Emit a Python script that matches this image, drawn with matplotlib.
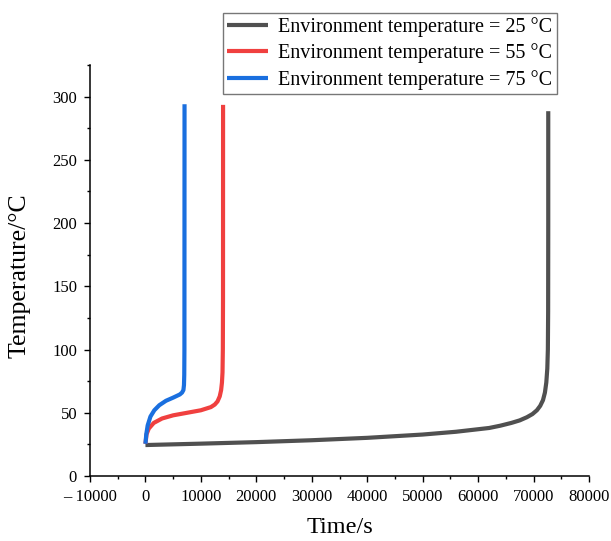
import matplotlib

matplotlib.use("Agg")
import matplotlib.pyplot as plt
from matplotlib.ticker import FuncFormatter, MultipleLocator

# Time (s) and temperature (°C)
time_25 = [0, 10000, 20000, 30000, 40000, 50000, 56000, 62000, 64000, 66000,
           67500, 68800, 69800, 70600, 71200, 71700, 72050, 72300, 72480,
           72580, 72630, 72650, 72650]
temp_25 = [24.5, 25.6, 26.8, 28.3, 30.2, 32.8, 35.0, 38.0, 39.8, 42.0,
           44.0, 46.5, 49.0, 52.0, 55.5, 60.0, 66.0, 74.0, 85.0,
           100.0, 130.0, 200.0, 288.5]

time_55 = [0, 200, 600, 1500, 3000, 5000, 7500, 10000, 11800, 12500,
           13000, 13400, 13650, 13800, 13900, 13960, 13990, 14000]
temp_55 = [25.5, 33.0, 37.5, 42.0, 45.5, 48.0, 50.0, 52.0, 54.5, 56.5,
           59.0, 63.0, 68.0, 74.0, 82.0, 100.0, 140.0, 293.5]

time_75 = [0, 150, 400, 900, 1600, 2500, 3700, 5000, 6200, 6600,
           6850, 6950, 7000, 7030, 7050]
temp_75 = [25.5, 33.0, 40.0, 47.0, 52.0, 56.0, 59.5, 62.0, 64.5, 66.0,
           68.0, 72.0, 80.0, 100.0, 294.0]

SERIES = [
    (time_25, temp_25, "Environment temperature = 25 °C", "#505050"),
    (time_55, temp_55, "Environment temperature = 55 °C", "#F0403F"),
    (time_75, temp_75, "Environment temperature = 75 °C", "#1A6FDF"),
]

plt.rcParams["font.family"] = ["Liberation Serif", "DejaVu Serif"]

fig = plt.figure(figsize=(6.11, 5.41), dpi=100)
ax = fig.add_axes([0.1473, 0.1201, 0.8167, 0.7597])

for t, temp, label, color in SERIES:
    ax.plot(t, temp, color=color, lw=3.0, label=label, solid_capstyle="butt")

ax.set_xlim(-10000, 80000)
ax.set_ylim(0, 325)
ax.xaxis.set_major_locator(MultipleLocator(10000))
ax.xaxis.set_minor_locator(MultipleLocator(5000))
ax.yaxis.set_major_locator(MultipleLocator(50))
ax.yaxis.set_minor_locator(MultipleLocator(25))


def fmt_x(v, _pos):
    v = int(round(v))
    if v < 0:
        return f"– {abs(v)}"
    return f"{v}"


ax.xaxis.set_major_formatter(FuncFormatter(fmt_x))
ax.tick_params(which="major", direction="out", length=4.3, width=1.0, pad=5,
               labelsize=12, color="black")
ax.tick_params(which="minor", direction="out", length=2.4, width=1.0, color="black")
for side in ("top", "right"):
    ax.spines[side].set_visible(False)
for side in ("left", "bottom"):
    ax.spines[side].set_linewidth(1.1)

ax.set_xlabel("Time/s", fontsize=17.5, labelpad=9)
ax.set_ylabel("Temperature/°C", fontsize=18.5)
ax.yaxis.set_label_coords(-0.12, 0.487)

leg = ax.legend(
    loc="upper left",
    bbox_to_anchor=(0.365, 0.976),
    bbox_transform=fig.transFigure,
    fontsize=14.5,
    frameon=True,
    fancybox=False,
    borderpad=0.2,
    borderaxespad=0,
    handlelength=2.05,
    handletextpad=0.5,
    labelspacing=0.32,
)
leg.get_frame().set_edgecolor("#555555")
leg.get_frame().set_linewidth(1.0)
for line in leg.get_lines():
    line.set_linewidth(3.0)

fig.savefig("out.png", dpi=100)
